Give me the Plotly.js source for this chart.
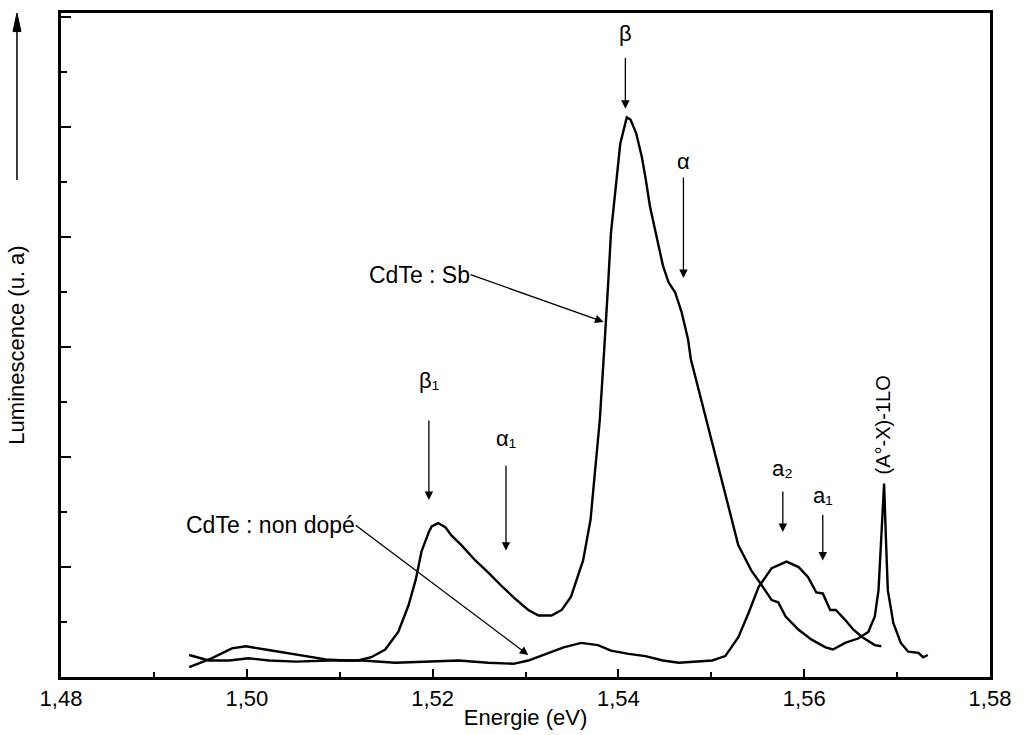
<!DOCTYPE html>
<html>
<head>
<meta charset="utf-8">
<script src="https://cdn.plot.ly/plotly-3.0.1.min.js"></script>
<style>html,body{margin:0;padding:0;background:#fff;}</style>
</head>
<body>
<div id="chart" style="width:1025px;height:735px;"></div>
<script>
// CdTe : Sb spectrum (energy in eV, luminescence in arbitrary units)
const sbEnergy = [1.4938,1.4962,1.4984,1.4999,1.5020,1.5042,1.5063,1.5085,1.5106,1.5120,1.5134,1.5149,1.5163,1.5174,1.5182,1.5188,1.5196,1.5199,1.5206,1.5214,1.5220,1.5231,1.5246,1.5260,1.5274,1.5289,1.5303,1.5314,1.5328,1.5339,1.5349,1.5362,1.5370,1.5375,1.5380,1.5384,1.5387,1.5389,1.5392,1.5397,1.5402,1.5409,1.5413,1.5419,1.5425,1.5429,1.5434,1.5441,1.5448,1.5454,1.5461,1.5468,1.5475,1.5478,1.5490,1.5501,1.5512,1.5520,1.5529,1.5543,1.5553,1.5565,1.5572,1.5580,1.5594,1.5608,1.5623,1.5631,1.5644,1.5658,1.5669,1.5676,1.5680,1.5683,1.5686,1.5688,1.5690,1.5696,1.5704,1.5712,1.5723,1.5728,1.5733];
const sbLum    = [0.09,0.17,0.26,0.28,0.25,0.22,0.19,0.16,0.15,0.15,0.18,0.25,0.41,0.65,0.89,1.14,1.32,1.37,1.40,1.36,1.29,1.20,1.06,0.95,0.83,0.71,0.61,0.56,0.56,0.61,0.73,1.06,1.43,1.88,2.34,2.88,3.25,3.58,4.04,4.45,4.85,5.09,5.07,4.95,4.74,4.55,4.28,4.01,3.74,3.59,3.50,3.32,3.07,2.89,2.50,2.13,1.76,1.50,1.20,0.97,0.85,0.70,0.68,0.55,0.43,0.34,0.27,0.25,0.31,0.35,0.41,0.55,0.79,1.25,1.76,1.25,0.79,0.49,0.31,0.23,0.22,0.18,0.20];

// CdTe : non dopé spectrum
const ndEnergy = [1.4938,1.4959,1.4981,1.5002,1.5024,1.5053,1.5088,1.5124,1.5160,1.5196,1.5228,1.5260,1.5287,1.5303,1.5323,1.5341,1.5360,1.5378,1.5392,1.5411,1.5429,1.5448,1.5465,1.5483,1.5501,1.5515,1.5529,1.5540,1.5551,1.5565,1.5581,1.5594,1.5604,1.5613,1.5620,1.5628,1.5634,1.5644,1.5653,1.5663,1.5676,1.5683];
const ndLum    = [0.20,0.15,0.15,0.17,0.15,0.14,0.15,0.15,0.13,0.14,0.15,0.13,0.12,0.15,0.21,0.27,0.31,0.29,0.24,0.21,0.19,0.15,0.13,0.14,0.15,0.19,0.36,0.58,0.82,0.99,1.05,1.00,0.91,0.77,0.76,0.61,0.61,0.52,0.43,0.36,0.29,0.28];

const xTickVals = [1.48,1.50,1.52,1.54,1.56,1.58];
const xTickText = ['1,48','1,50','1,52','1,54','1,56','1,58'];

// Peak labels: label, energy, label bottom, arrow head, gap between label and arrow (px)
const peakLabels = ['β','α','β₁','α₁','a₂','a₁'];
const peakEnergy = [1.54075,1.5470,1.5196,1.5279,1.5577,1.5620];
const peakLabelY = [5.73,4.57,2.57,2.05,1.77,1.53];
const peakHeadY  = [5.17,3.63,1.61,1.15,1.32,1.06];
const peakGap    = [11,3,26,14,9,6];

const FONT = 'Arial, "Liberation Sans", sans-serif';
const AFONT = {family: FONT, size: 22, color: '#000'};
const SFONT = {family: FONT, size: 23, color: '#000'};

const traces = [
  {x: sbEnergy, y: sbLum, mode: 'lines', name: 'CdTe : Sb',
   line: {color: '#000', width: 2.4}},
  {x: ndEnergy, y: ndLum, mode: 'lines', name: 'CdTe : non dopé',
   line: {color: '#000', width: 2.4}}
];

const arrowStyle = {showarrow: true, arrowhead: 2, arrowsize: 1.3, arrowwidth: 1.3, arrowcolor: '#000'};
const ann = [];
for (let i = 0; i < peakLabels.length; i++) {
  ann.push(Object.assign({
    x: peakEnergy[i], y: peakHeadY[i], ax: peakEnergy[i], ay: peakLabelY[i],
    xref: 'x', yref: 'y', axref: 'x', ayref: 'y',
    text: peakLabels[i], xanchor: 'center', yanchor: 'bottom', borderpad: 0,
    startstandoff: peakGap[i], font: AFONT}, arrowStyle));
}
ann.push(Object.assign({
  x: 1.5384, y: 3.23, ax: 1.52409, ay: 3.66, xref: 'x', yref: 'y', axref: 'x', ayref: 'y',
  text: 'CdTe : Sb', xanchor: 'right', yanchor: 'middle', borderpad: 0, font: SFONT}, arrowStyle));
ann.push(Object.assign({
  x: 1.5303, y: 0.20, ax: 1.51172, ay: 1.38, xref: 'x', yref: 'y', axref: 'x', ayref: 'y',
  text: 'CdTe : non dopé', xanchor: 'right', yanchor: 'middle', borderpad: 0, font: SFONT}, arrowStyle));
ann.push({x: 1.5685, y: 2.29, xref: 'x', yref: 'y', text: '(A°-X)-1LO', textangle: -90,
  showarrow: false, font: {family: FONT, size: 20, color: '#000'}});

// arrow beside the y-axis title (paper coordinates)
const shapes = [
  {type: 'line', xref: 'paper', yref: 'paper', x0: -0.0474, x1: -0.0474, y0: 0.7485, y1: 0.975,
   line: {color: '#000', width: 1.5}},
  {type: 'path', xref: 'paper', yref: 'paper', path: 'M -0.0474,1.0 L -0.0517,0.972 L -0.0431,0.972 Z',
   fillcolor: '#000', line: {color: '#000', width: 1}}
];

const layout = {
  width: 1025, height: 735,
  margin: {l: 61, r: 35, t: 13, b: 58},
  paper_bgcolor: '#fff', plot_bgcolor: '#fff',
  showlegend: false,
  separators: ', ',
  font: {family: FONT, color: '#000'},
  xaxis: {
    range: [1.48, 1.58], tickmode: 'array', tickvals: xTickVals, ticktext: xTickText,
    ticks: 'inside', ticklen: 8, tickwidth: 2, tickcolor: '#000',
    minor: {dtick: 0.01, ticks: 'inside', ticklen: 5, tickwidth: 2, tickcolor: '#000', showgrid: false},
    showgrid: false, zeroline: false, showline: true, linewidth: 3, linecolor: '#000', mirror: true,
    tickfont: {family: FONT, size: 22, color: '#000'},
    title: {text: '\u00a0\u00a0\u00a0\u00a0\u00a0\u00a0Energie (eV)', font: {family: FONT, size: 22, color: '#000'}, standoff: 0}
  },
  yaxis: {
    range: [0, 6.04], dtick: 1, tick0: 0, showticklabels: false,
    ticks: 'inside', ticklen: 10, tickwidth: 2, tickcolor: '#000',
    minor: {dtick: 0.5, ticks: 'inside', ticklen: 6, tickwidth: 2, tickcolor: '#000', showgrid: false},
    showgrid: false, zeroline: false, showline: true, linewidth: 3, linecolor: '#000', mirror: true,
    title: {text: 'Luminescence (u. a)', font: {family: FONT, size: 22, color: '#000'}, standoff: 28}
  },
  annotations: ann,
  shapes: shapes
};

Plotly.newPlot('chart', traces, layout, {displayModeBar: false, staticPlot: true});
</script>
</body>
</html>
